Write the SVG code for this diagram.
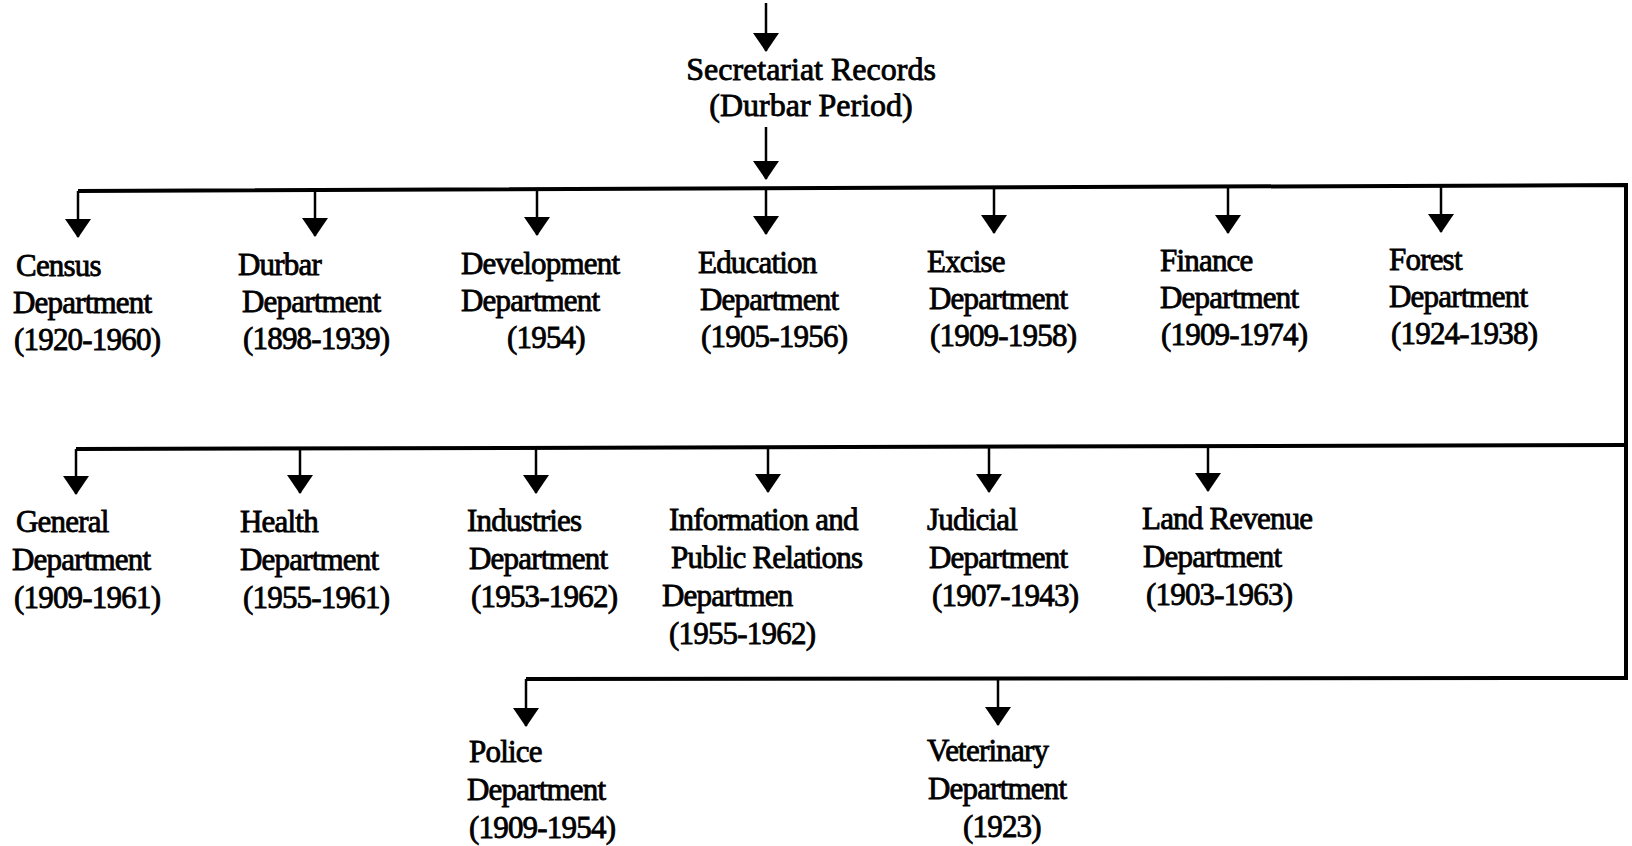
<svg xmlns="http://www.w3.org/2000/svg" width="1632" height="846" viewBox="0 0 1632 846">
<style>
text{font-family:'Liberation Serif','Times New Roman',Times,serif;font-size:31px;fill:#000;stroke:#000;stroke-width:0.8px;letter-spacing:-0.8px}
.head{font-size:32px;letter-spacing:0}
.stem{stroke:#000;stroke-width:2.5;fill:none}
.bus{stroke:#000;stroke-width:4;fill:none}
</style>
<defs>
<marker id="ah" viewBox="0 0 26 19" refX="13" refY="18" markerWidth="26" markerHeight="19" markerUnits="userSpaceOnUse" orient="0">
<path d="M0,0 L26,0 L13,19 z" fill="#000"/>
</marker>
</defs>
<rect width="1632" height="846" fill="#fff"/>
<g id="connectors">
<line class="stem" x1="766" y1="3" x2="766" y2="51" marker-end="url(#ah)"/>
<line class="stem" x1="766" y1="127" x2="766" y2="179" marker-end="url(#ah)"/>
<path class="bus" d="M78,191 L1626,185 L1626,678 L526,679"/>
<path class="bus" d="M76,449 L1626,445"/>
<line class="stem" x1="78" y1="191" x2="78" y2="237" marker-end="url(#ah)"/>
<line class="stem" x1="315" y1="190" x2="315" y2="236" marker-end="url(#ah)"/>
<line class="stem" x1="537" y1="189" x2="537" y2="235" marker-end="url(#ah)"/>
<line class="stem" x1="766" y1="189" x2="766" y2="234" marker-end="url(#ah)"/>
<line class="stem" x1="994" y1="188" x2="994" y2="233" marker-end="url(#ah)"/>
<line class="stem" x1="1228" y1="187" x2="1228" y2="233" marker-end="url(#ah)"/>
<line class="stem" x1="1441" y1="186" x2="1441" y2="232" marker-end="url(#ah)"/>
<line class="stem" x1="76" y1="449" x2="76" y2="494" marker-end="url(#ah)"/>
<line class="stem" x1="300" y1="448" x2="300" y2="493" marker-end="url(#ah)"/>
<line class="stem" x1="536" y1="448" x2="536" y2="493" marker-end="url(#ah)"/>
<line class="stem" x1="768" y1="447" x2="768" y2="492" marker-end="url(#ah)"/>
<line class="stem" x1="989" y1="447" x2="989" y2="492" marker-end="url(#ah)"/>
<line class="stem" x1="1208" y1="446" x2="1208" y2="491" marker-end="url(#ah)"/>
<line class="stem" x1="526" y1="679" x2="526" y2="726" marker-end="url(#ah)"/>
<line class="stem" x1="998" y1="678" x2="998" y2="725" marker-end="url(#ah)"/>
</g>
<g id="secretariat"><text class="head" x="811" y="80" text-anchor="middle">Secretariat Records</text><text class="head" x="811" y="116" text-anchor="middle">(Durbar Period)</text></g>
<g id="census"><text x="16" y="276">Census</text><text x="13" y="313">Department</text><text x="14" y="350">(1920-1960)</text></g>
<g id="durbar"><text x="238" y="275">Durbar</text><text x="242" y="312">Department</text><text x="243" y="349">(1898-1939)</text></g>
<g id="development"><text x="461" y="274">Development</text><text x="461" y="311">Department</text><text x="507" y="348">(1954)</text></g>
<g id="education"><text x="698" y="273">Education</text><text x="700" y="310">Department</text><text x="701" y="347">(1905-1956)</text></g>
<g id="excise"><text x="927" y="272">Excise</text><text x="929" y="309">Department</text><text x="930" y="346">(1909-1958)</text></g>
<g id="finance"><text x="1160" y="271">Finance</text><text x="1160" y="308">Department</text><text x="1161" y="345">(1909-1974)</text></g>
<g id="forest"><text x="1389" y="270">Forest</text><text x="1389" y="307">Department</text><text x="1391" y="344">(1924-1938)</text></g>
<g id="general"><text x="16" y="532">General</text><text x="12" y="570">Department</text><text x="14" y="608">(1909-1961)</text></g>
<g id="health"><text x="240" y="532">Health</text><text x="240" y="570">Department</text><text x="243" y="608">(1955-1961)</text></g>
<g id="industries"><text x="467" y="531">Industries</text><text x="469" y="569">Department</text><text x="471" y="607">(1953-1962)</text></g>
<g id="information"><text x="669" y="530">Information and</text><text x="671" y="568">Public Relations</text><text x="662" y="606">Departmen</text><text x="669" y="644">(1955-1962)</text></g>
<g id="judicial"><text x="927" y="530">Judicial</text><text x="929" y="568">Department</text><text x="932" y="606">(1907-1943)</text></g>
<g id="landrevenue"><text x="1142" y="529">Land Revenue</text><text x="1143" y="567">Department</text><text x="1146" y="605">(1903-1963)</text></g>
<g id="police"><text x="469" y="762">Police</text><text x="467" y="800">Department</text><text x="469" y="838">(1909-1954)</text></g>
<g id="veterinary"><text x="927" y="761">Veterinary</text><text x="928" y="799">Department</text><text x="963" y="837">(1923)</text></g>
</svg>
